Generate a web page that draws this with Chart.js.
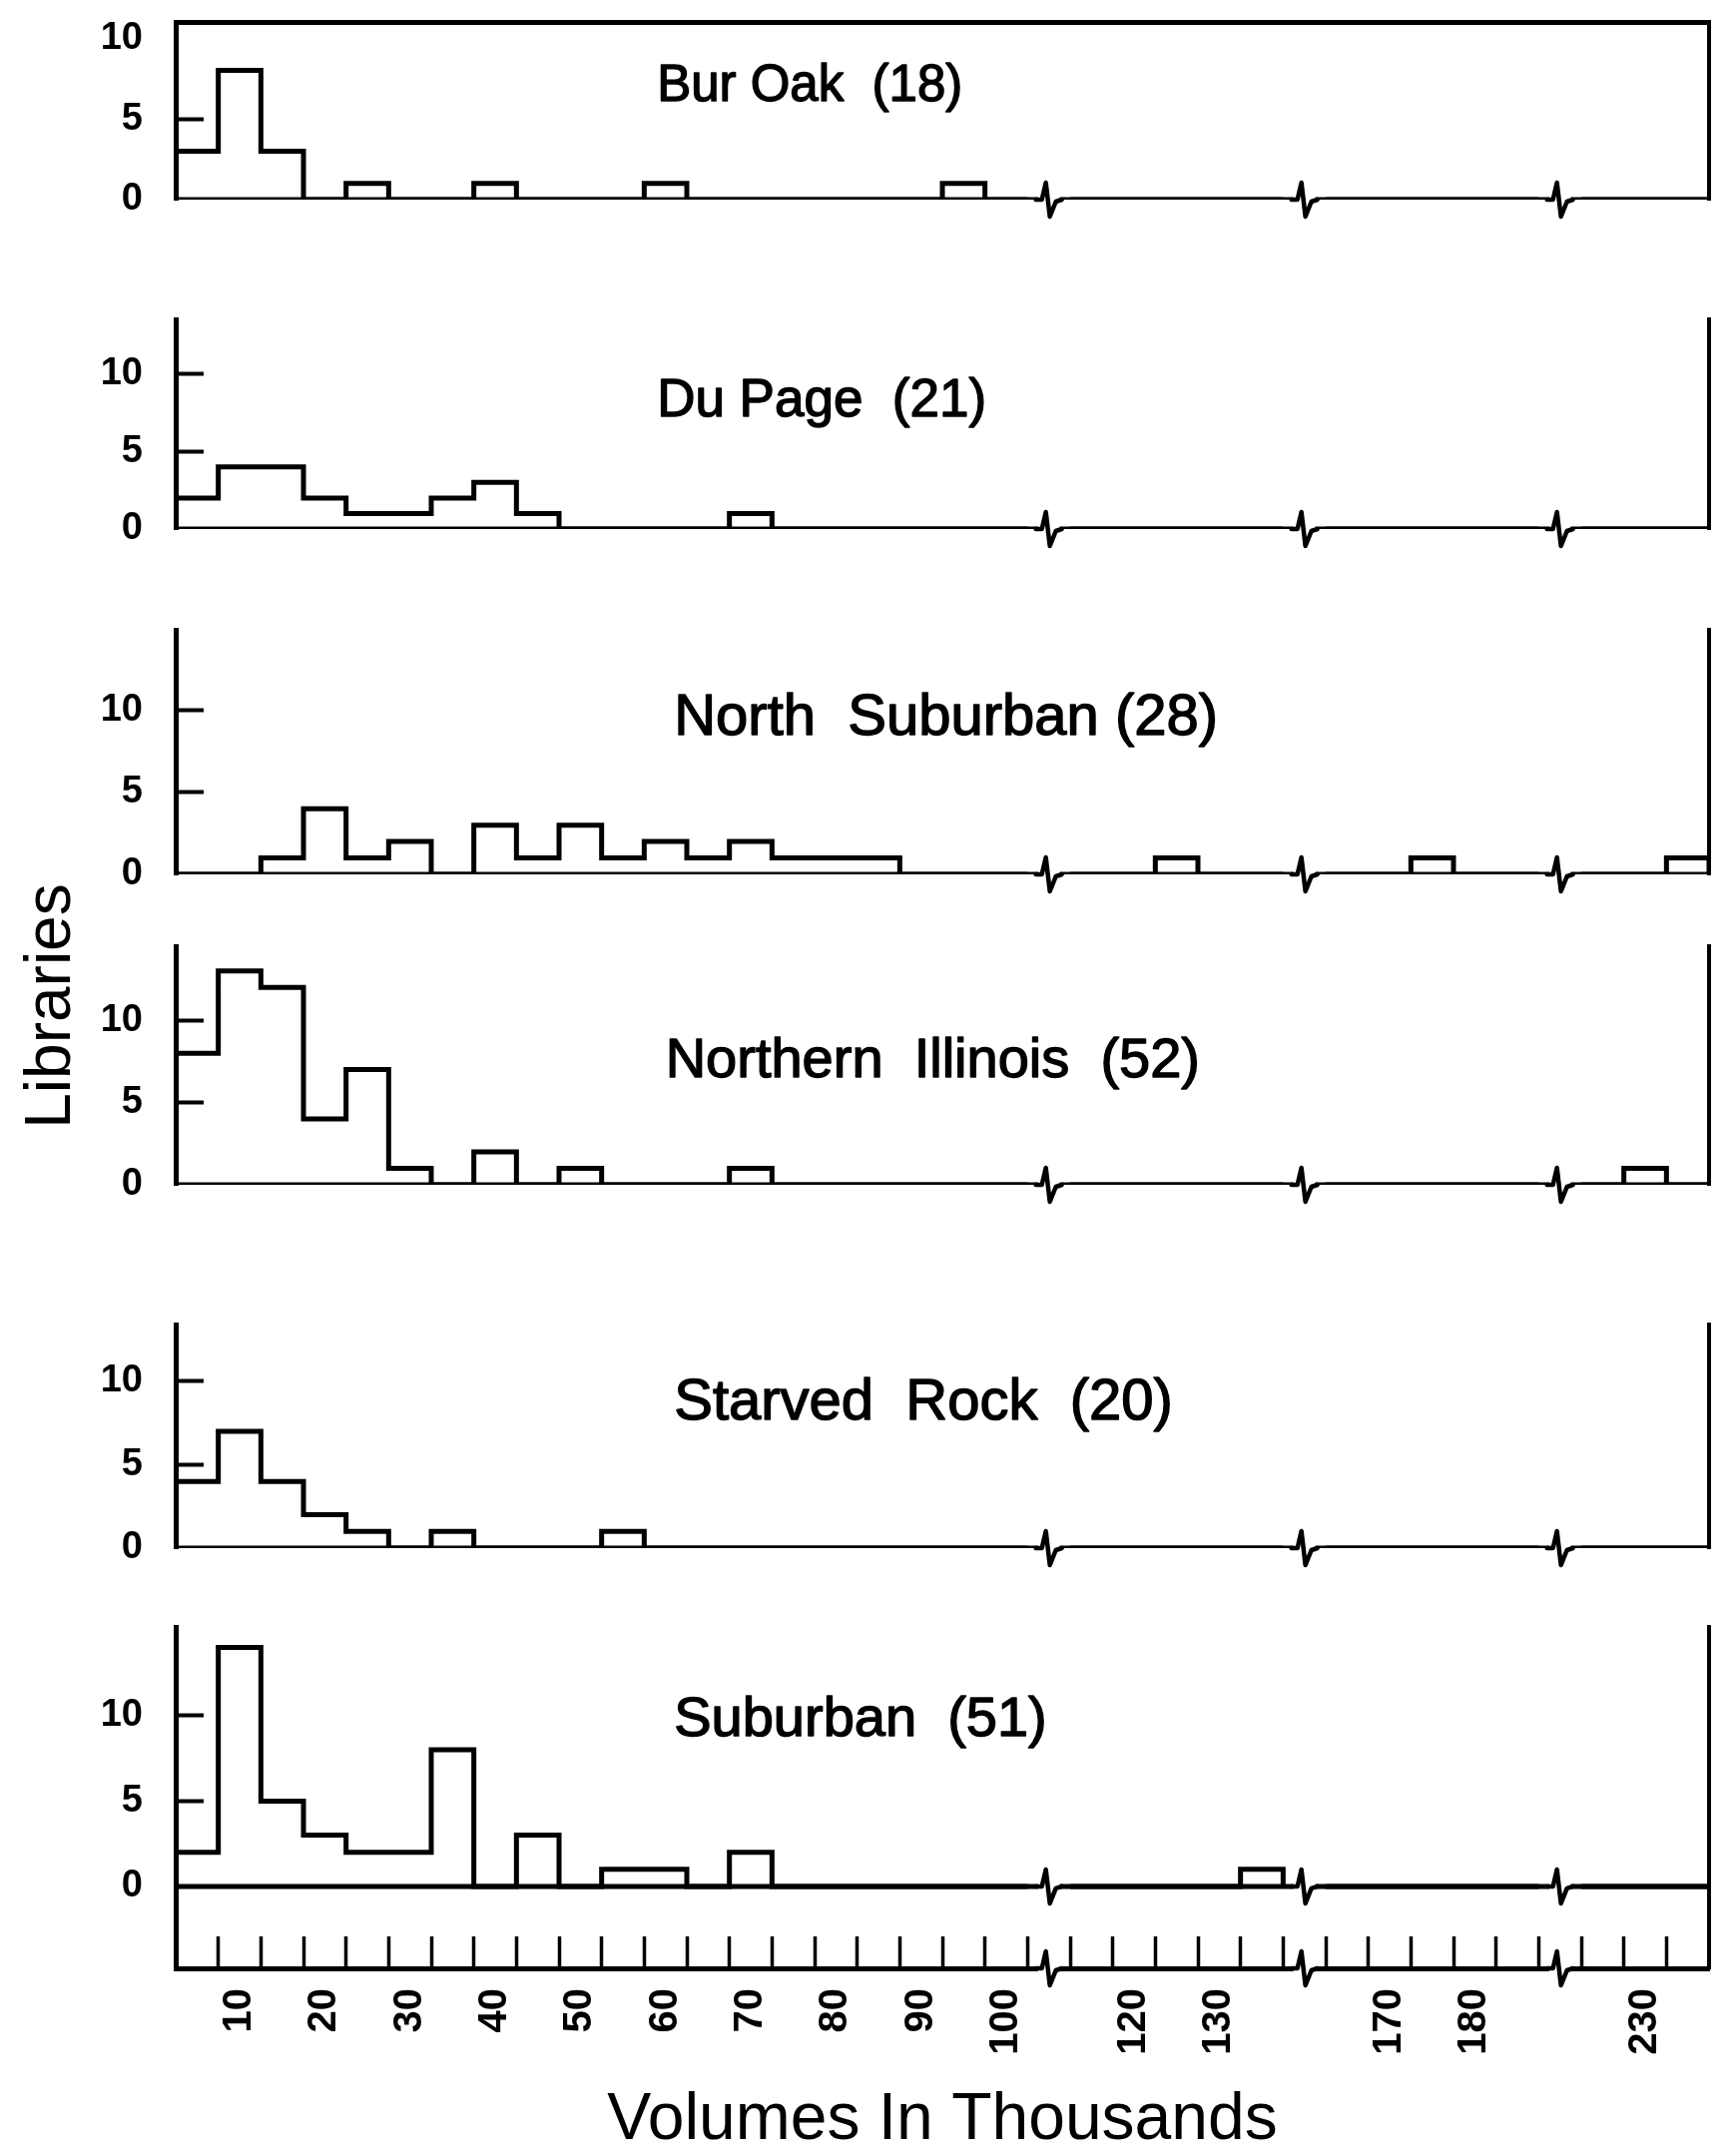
<!DOCTYPE html>
<html>
<head>
<meta charset="utf-8">
<script src="https://cdn.jsdelivr.net/npm/chart.js@4.4.0/dist/chart.umd.min.js"></script>
<style>
  html, body { margin: 0; padding: 0; background: #fff; }
  body { width: 1737px; height: 2160px; position: relative; overflow: hidden; }
  canvas { position: absolute; left: 0; }
  #ylabel {
    position: absolute; left: 48px; top: 1008px;
    transform: translate(-50%, -50%) rotate(-90deg);
    font: 64px "Liberation Sans", Arial, sans-serif; white-space: nowrap; color: #000;
  }
</style>
</head>
<body>
<div id="ylabel">Libraries</div>
<script>
// upper bound (thousands of volumes) of every 5K class shown on the axis
var binUpper = [5, 10, 15, 20, 25, 30, 35, 40, 45, 50, 55, 60, 65, 70, 75, 80, 85, 90, 95, 100,
                115, 120, 125, 130, 135,
                165, 170, 175, 180, 185,
                225, 230, 235];

// number of libraries per class
var burOak           = [3, 8, 3, 0, 1, 0, 0, 1, 0, 0, 0, 1, 0, 0, 0, 0, 0, 0, 1, 0,  0, 0, 0, 0, 0,  0, 0, 0, 0, 0,  0, 0, 0];
var duPage           = [2, 4, 4, 2, 1, 1, 2, 3, 1, 0, 0, 0, 0, 1, 0, 0, 0, 0, 0, 0,  0, 0, 0, 0, 0,  0, 0, 0, 0, 0,  0, 0, 0];
var northSuburban    = [0, 0, 1, 4, 1, 2, 0, 3, 1, 3, 1, 2, 1, 2, 1, 1, 1, 0, 0, 0,  0, 0, 1, 0, 0,  0, 0, 1, 0, 0,  0, 0, 1];
var northernIllinois = [8, 13, 12, 4, 7, 1, 0, 2, 0, 1, 0, 0, 0, 1, 0, 0, 0, 0, 0, 0,  0, 0, 0, 0, 0,  0, 0, 0, 0, 0,  0, 1, 0];
var starvedRock      = [4, 7, 4, 2, 1, 0, 1, 0, 0, 0, 1, 0, 0, 0, 0, 0, 0, 0, 0, 0,  0, 0, 0, 0, 0,  0, 0, 0, 0, 0,  0, 0, 0];
var suburban         = [2, 14, 5, 3, 2, 2, 8, 0, 3, 0, 1, 1, 0, 2, 0, 0, 0, 0, 0, 0,  0, 0, 0, 0, 1,  0, 0, 0, 0, 0,  0, 0, 0];

var panelTitles = ['Bur Oak  (18)', 'Du Page  (21)', 'North  Suburban (28)',
                   'Northern  Illinois  (52)', 'Starved  Rock  (20)', 'Suburban  (51)'];
var panelCounts = [burOak, duPage, northSuburban, northernIllinois, starvedRock, suburban];

var xTickLabels = [10, 20, 30, 40, 50, 60, 70, 80, 90, 100, 120, 130, 170, 180, 230];
var yTickValues = [0, 5, 10];

// parts of the volume axis that are cut out (thousands)
var axisBreaks = [[102.5, 107.5], [137.5, 157.5], [187.5, 217.5]];
var binWidth = 5;
var axisEnd = 235;

// page layout of each panel (pixels) and y range
var panelLayout = [
  { top: 22,   bottom: 200,  min: 0,    max: 11.0, titleX: 11.3, titleY: 7.0, titleSize: 51, frame: true },
  { top: 320,  bottom: 530,  min: 0,    max: 13.5, titleX: 11.3, titleY: 8.2, titleSize: 53 },
  { top: 631,  bottom: 876,  min: 0,    max: 14.9, titleX: 11.7, titleY: 9.5, titleSize: 58 },
  { top: 948,  bottom: 1187, min: 0,    max: 14.5, titleX: 11.5, titleY: 7.5, titleSize: 56 },
  { top: 1327, bottom: 1551, min: 0,    max: 13.4, titleX: 11.7, titleY: 8.7, titleSize: 58 },
  { top: 1630, bottom: 1972, min: -4.8, max: 15.2, titleX: 11.7, titleY: 9.7, titleSize: 56, axis: true }
];

var FONT = '"Liberation Sans", Arial, sans-serif';
var W = 1737, H = 2160, AXIS_LEFT = 176, PAD_RIGHT = 25;

// position on the broken axis, in class widths
function slotOf(v) {
  var cut = 0;
  axisBreaks.forEach(function (b) { if (v >= b[1]) cut += b[1] - b[0]; });
  return (v - cut) / binWidth;
}
var xMax = slotOf(axisEnd);
var breakSlots = axisBreaks.map(function (b) { return slotOf(b[0]); });

// tick marks on class boundaries, labels in the middle of the class
var tickSlots = [];
for (var v = binWidth; v < axisEnd; v += binWidth) {
  var inGap = axisBreaks.some(function (b) { return v > b[0] && v < b[1]; });
  if (!inGap) tickSlots.push(slotOf(v));
}
var labelAt = {};
xTickLabels.forEach(function (v) {
  var s = slotOf(v) - 0.5;
  labelAt[s] = String(v);
  tickSlots.push(s);
});
tickSlots.sort(function (a, b) { return a - b; });

function histogramPoints(counts) {
  var pts = [], end = null;
  binUpper.forEach(function (v, i) {
    var start = slotOf(v) - 1;
    if (end === null || start > end) {
      if (end !== null) {
        pts.push({ x: end, y: 0 });
        pts.push({ x: (end + start) / 2, y: null });
      }
      pts.push({ x: start, y: 0 });
    }
    pts.push({ x: start, y: counts[i] });
    end = start + 1;
  });
  pts.push({ x: end, y: 0 });
  return pts;
}

function noPadding(scale) {
  scale.paddingTop = 0;
  scale.paddingBottom = 0;
  scale.paddingLeft = 0;
  scale.paddingRight = 0;
}

// zigzag marks where the axis is broken
var breakMarks = {
  id: 'breakMarks',
  afterDraw: function (chart) {
    var ctx = chart.ctx, xs = chart.scales.x, ys = chart.scales.y;
    var rows = [ys.getPixelForValue(0)];
    if (ys.min < 0) rows.push(chart.chartArea.bottom);
    ctx.save();
    breakSlots.forEach(function (s) {
      var xb = xs.getPixelForValue(s);
      rows.forEach(function (y0) {
        ctx.fillStyle = '#fff';
        ctx.fillRect(xb - 11, y0 - 4, 22, 8);
        ctx.beginPath();
        ctx.moveTo(xb - 13, y0);
        ctx.lineTo(xb - 7, y0);
        ctx.lineTo(xb - 3, y0 - 17);
        ctx.lineTo(xb + 1, y0 + 17);
        ctx.lineTo(xb + 7, y0 + 2);
        ctx.lineTo(xb + 13, y0);
        ctx.lineWidth = 4.5;
        ctx.lineJoin = 'round';
        ctx.lineCap = 'round';
        ctx.strokeStyle = '#000';
        ctx.stroke();
      });
    });
    ctx.restore();
  }
};

var panelTitle = {
  id: 'panelTitle',
  afterDatasetsDraw: function (chart, args, opts) {
    var ctx = chart.ctx;
    var x = chart.scales.x.getPixelForValue(opts.x);
    var y = chart.scales.y.getPixelForValue(opts.y);
    ctx.save();
    ctx.font = opts.size + 'px ' + FONT;
    ctx.fillStyle = '#000';
    ctx.strokeStyle = '#000';
    ctx.lineWidth = 1.4;
    ctx.lineJoin = 'round';
    ctx.textAlign = 'left';
    ctx.textBaseline = 'middle';
    ctx.fillText(opts.text, x, y);
    ctx.strokeText(opts.text, x, y);
    ctx.restore();
  }
};

panelLayout.forEach(function (p, i) {
  var canvasTop = Math.max(0, p.top - 40);
  var canvasBottom = p.axis ? H : p.bottom + 40;
  var canvas = document.createElement('canvas');
  canvas.width = W;
  canvas.height = canvasBottom - canvasTop;
  canvas.style.top = canvasTop + 'px';
  document.body.appendChild(canvas);

  var xAxisHeight = p.axis ? H - p.bottom : 0;

  new Chart(canvas, {
    type: 'line',
    data: {
      datasets: [
        {
          data: [{ x: 0, y: 0 }, { x: xMax, y: 0 }],
          borderColor: '#000', borderWidth: 5, pointRadius: 0, fill: false
        },
        {
          data: histogramPoints(panelCounts[i]),
          stepped: 'before',
          borderColor: '#000', borderWidth: 5, borderJoinStyle: 'miter',
          pointRadius: 0, pointHitRadius: 0, fill: false, spanGaps: false
        }
      ]
    },
    options: {
      responsive: false,
      animation: false,
      events: [],
      layout: { padding: { top: p.top - canvasTop, bottom: p.axis ? 0 : canvasBottom - p.bottom, left: 0, right: PAD_RIGHT } },
      plugins: {
        legend: { display: false },
        tooltip: { enabled: false },
        panelTitle: { text: panelTitles[i], x: p.titleX, y: p.titleY, size: p.titleSize }
      },
      scales: {
        x: {
          type: 'linear', min: 0, max: xMax,
          display: !!p.axis,
          afterBuildTicks: function (scale) {
            scale.ticks = tickSlots.map(function (s) { return { value: s }; });
          },
          afterFit: function (scale) { scale.height = xAxisHeight; noPadding(scale); },
          border: { display: true, width: 5, color: '#000' },
          grid: {
            display: true, drawOnChartArea: false, drawTicks: true,
            tickLength: -32, tickWidth: 3.5,
            tickColor: function (c) { return Number.isInteger(c.tick.value) ? '#000' : 'rgba(0,0,0,0)'; }
          },
          ticks: {
            autoSkip: false, minRotation: 90, maxRotation: 90, padding: 52,
            color: '#000', font: { family: FONT, size: 40, weight: 'bold' },
            callback: function (value) { return labelAt[value] || ''; }
          },
          title: {
            display: true, text: 'Volumes In Thousands', color: '#000',
            font: { family: FONT, size: 66, lineHeight: 1 }, padding: { top: 0, bottom: 2 }
          }
        },
        xTop: {
          type: 'linear', position: 'top', min: 0, max: xMax,
          display: !!p.frame,
          afterFit: function (scale) { scale.height = 0; noPadding(scale); },
          ticks: { display: false },
          grid: { display: false },
          border: { display: true, width: 5, color: '#000' }
        },
        y: {
          type: 'linear', min: p.min, max: p.max,
          afterBuildTicks: function (scale) {
            scale.ticks = yTickValues.map(function (v) { return { value: v }; });
          },
          afterFit: function (scale) { scale.width = AXIS_LEFT; noPadding(scale); },
          border: { display: true, width: 5, color: '#000' },
          grid: {
            display: true, drawOnChartArea: false, drawTicks: true,
            tickLength: -28, tickWidth: 4,
            tickColor: function (c) {
              var v = c.tick.value;
              if (v === 0 || (p.frame && v === 10)) return 'rgba(0,0,0,0)';
              return '#000';
            }
          },
          ticks: {
            padding: 61, color: '#000',
            font: { family: FONT, size: 38, weight: 'bold' },
            callback: function (value) { return String(value); }
          }
        },
        yRight: {
          type: 'linear', position: 'right', min: p.min, max: p.max,
          afterFit: function (scale) { scale.width = 0; noPadding(scale); },
          ticks: { display: false },
          grid: { display: false },
          border: { display: true, width: 4, color: '#000' }
        }
      }
    },
    plugins: [breakMarks, panelTitle]
  });
});
</script>
</body>
</html>
